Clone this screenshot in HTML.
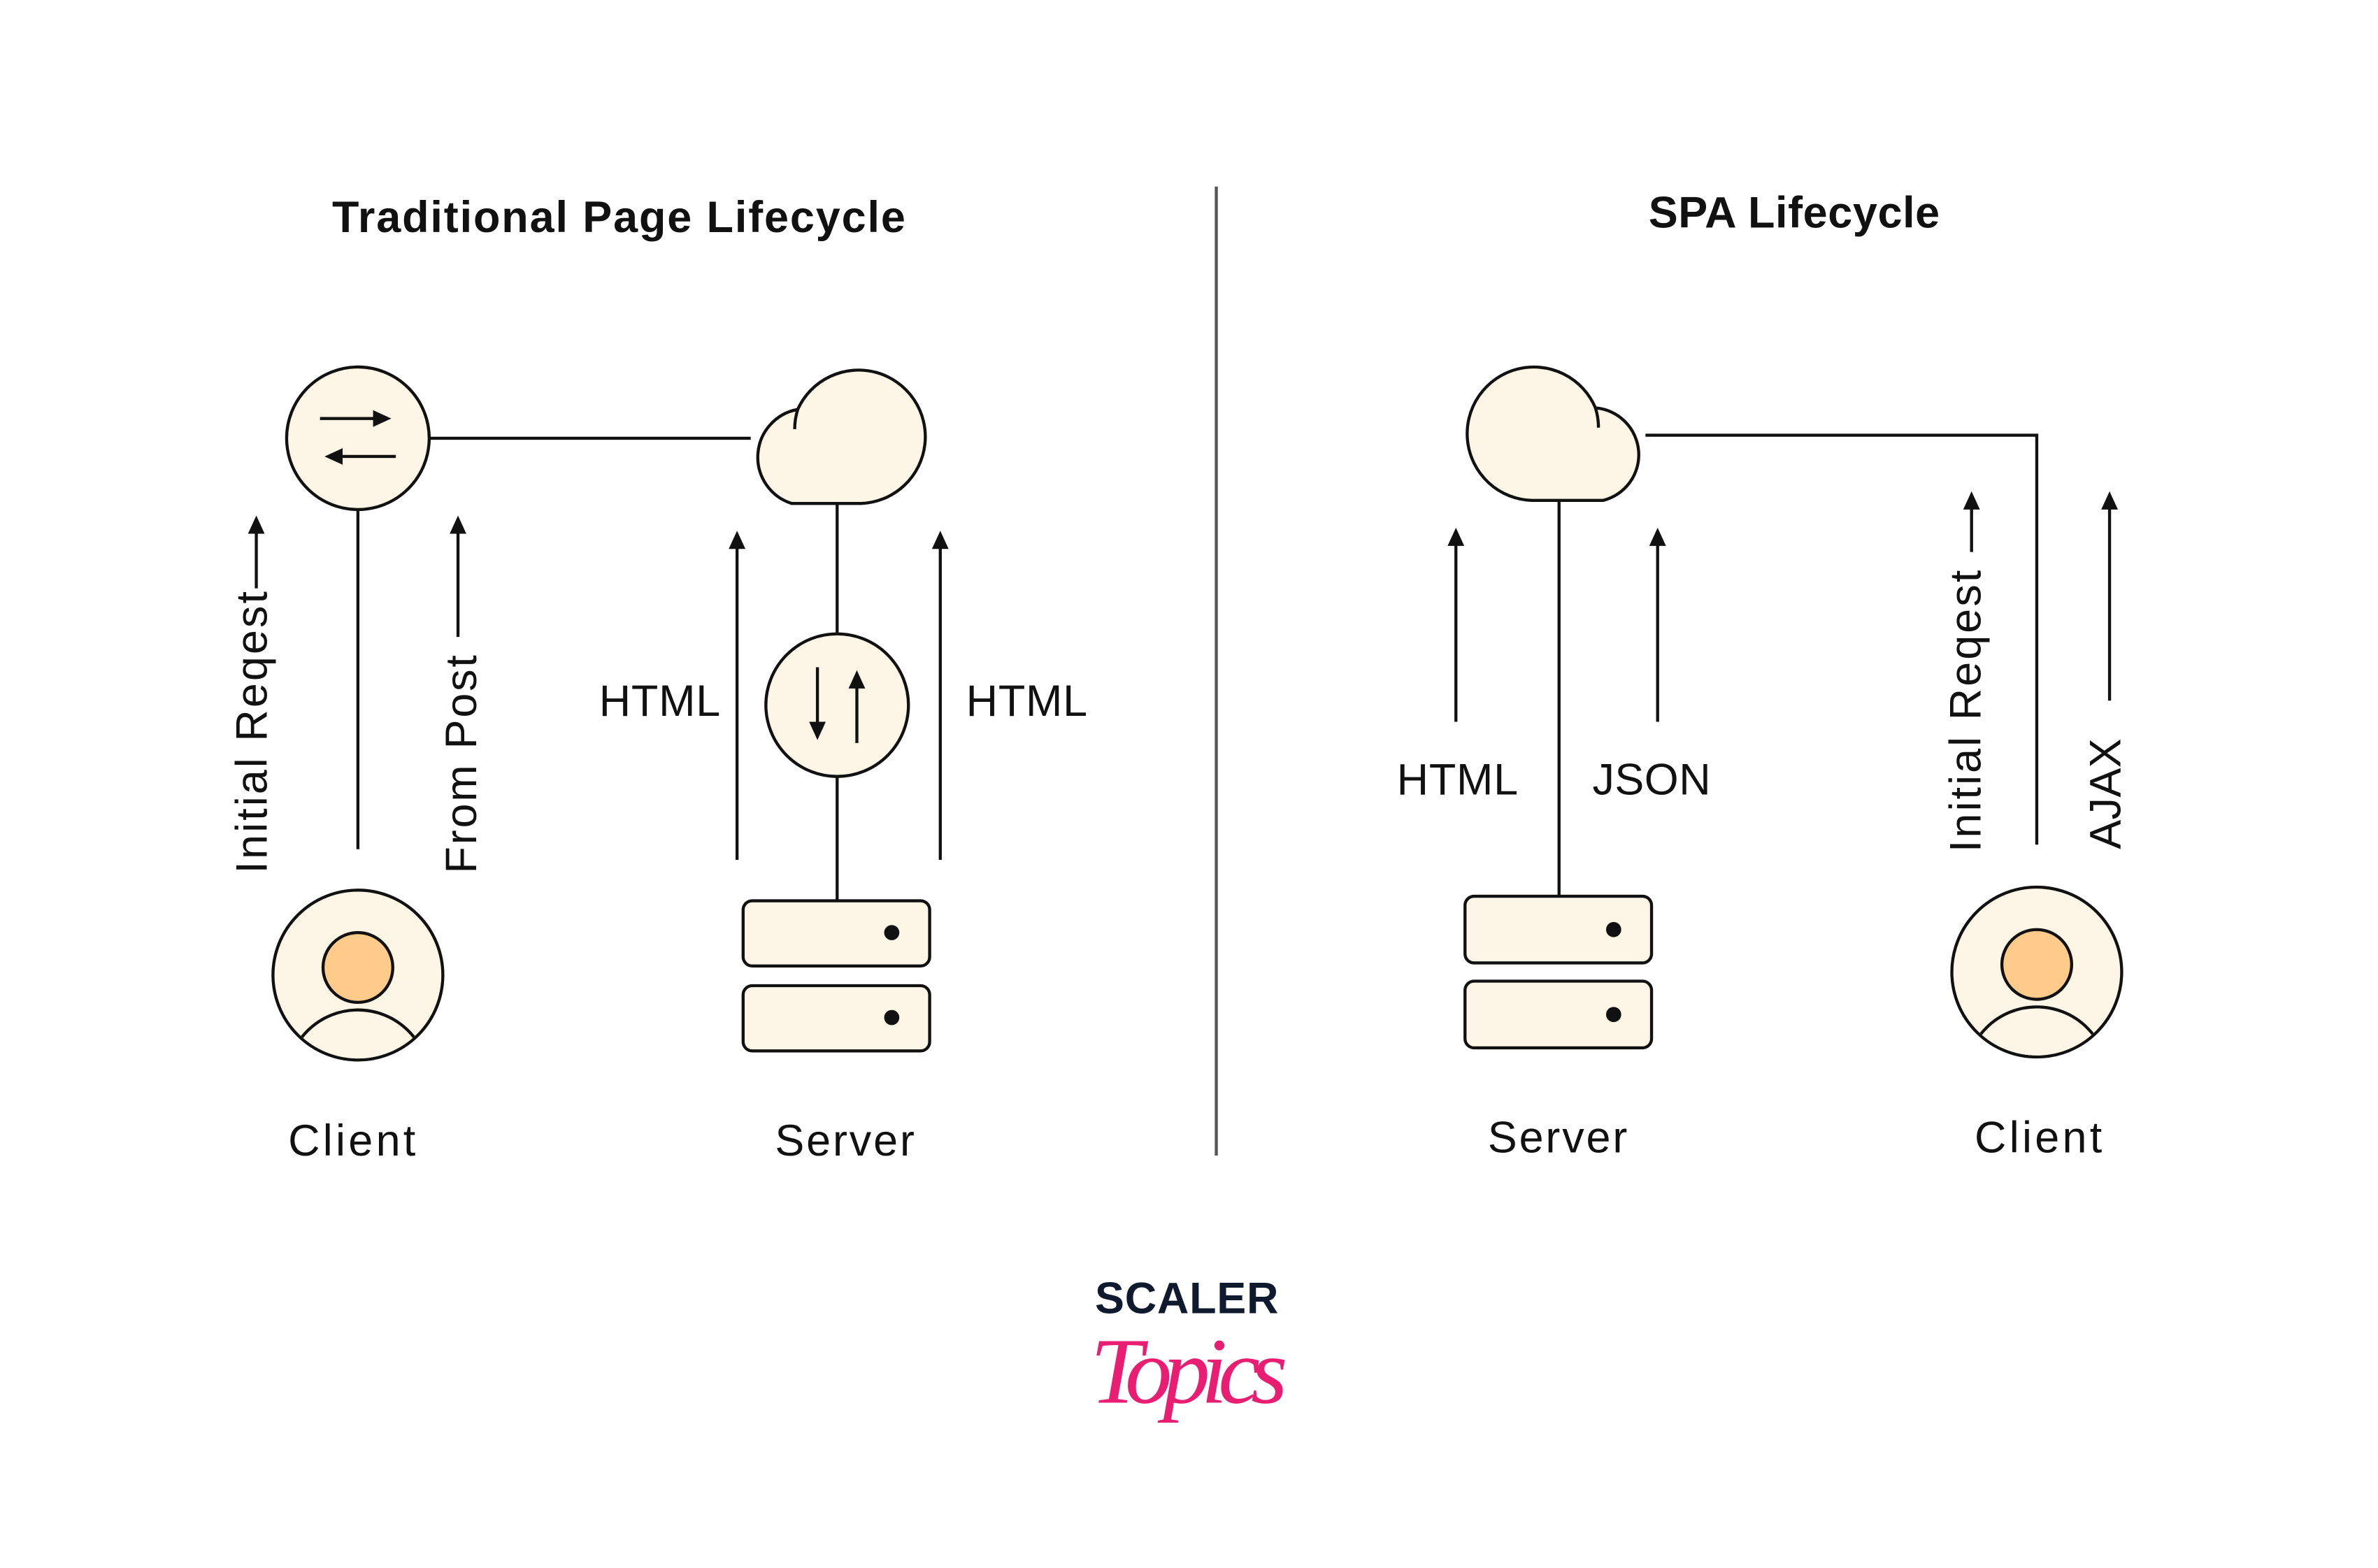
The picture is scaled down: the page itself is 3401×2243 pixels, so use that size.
<!DOCTYPE html>
<html><head><meta charset="utf-8"><style>
html,body{margin:0;padding:0;background:#fff;}
svg{display:block;}
text{font-family:"Liberation Sans",sans-serif;fill:#111;}
</style></head><body>
<svg width="3401" height="2243" viewBox="0 0 1568 1034" preserveAspectRatio="none" xmlns="http://www.w3.org/2000/svg">
<defs>
<marker id="ah" markerWidth="12" markerHeight="12" refX="6" refY="6" orient="auto" markerUnits="userSpaceOnUse"><path d="M0,0.5 L12,6 L0,11.5 Z" fill="#111"/></marker>
<clipPath id="c1"><circle cx="236" cy="643" r="55"/></clipPath>
<clipPath id="c2"><circle cx="1343" cy="641" r="55"/></clipPath>
</defs>
<text x="408" y="153" font-size="29" font-weight="bold" text-anchor="middle" textLength="378">Traditional Page Lifecycle</text>
<text x="1183" y="150" font-size="29" font-weight="bold" text-anchor="middle" textLength="192">SPA Lifecycle</text>
<line x1="802" y1="123" x2="802" y2="762" stroke="#555" stroke-width="2"/>

<g stroke="#111" stroke-width="2">
<line x1="283" y1="289" x2="495" y2="289"/>
<line x1="236" y1="336" x2="236" y2="560"/>
<circle cx="236" cy="289" r="47" fill="#fdf5e6"/>
<line x1="211" y1="276" x2="252" y2="276" marker-end="url(#ah)"/>
<line x1="261" y1="301" x2="220" y2="301" marker-end="url(#ah)"/>
<path d="M522,332 A32,32 0 0 1 526,270 A44,44 0 1 1 568,332 Z" fill="#fdf5e6"/>
<path d="M526,270 A44,44 0 0 0 524,283" fill="none"/>
<line x1="552" y1="332" x2="552" y2="418"/>
<line x1="552" y1="512" x2="552" y2="594"/>
<circle cx="552" cy="465" r="47" fill="#fdf5e6"/>
<line x1="539" y1="440" x2="539" y2="482" marker-end="url(#ah)"/>
<line x1="565" y1="490" x2="565" y2="448" marker-end="url(#ah)"/>
<rect x="490" y="594" width="123" height="43" rx="6" fill="#fdf5e6"/>
<rect x="490" y="650" width="123" height="43" rx="6" fill="#fdf5e6"/>
<line x1="486" y1="567" x2="486" y2="356" marker-end="url(#ah)"/>
<line x1="620" y1="567" x2="620" y2="356" marker-end="url(#ah)"/>
<line x1="169" y1="388" x2="169" y2="346" marker-end="url(#ah)"/>
<line x1="302" y1="420" x2="302" y2="346" marker-end="url(#ah)"/>
<circle cx="236" cy="643" r="56" fill="#fdf5e6"/>
<circle cx="236" cy="713" r="47" fill="#fdf5e6" clip-path="url(#c1)"/>
<circle cx="236" cy="638" r="23" fill="#fecb8b"/>

<polyline points="1085,287 1343,287 1343,557" fill="none"/>
<line x1="1028" y1="330" x2="1028" y2="591"/>
<path d="M1057,330 A31,31 0 0 0 1052,269 A44,44 0 1 0 1010,330 Z" fill="#fdf5e6"/>
<path d="M1052,269 A44,44 0 0 1 1054,282" fill="none"/>
<rect x="966" y="591" width="123" height="44" rx="6" fill="#fdf5e6"/>
<rect x="966" y="647" width="123" height="44" rx="6" fill="#fdf5e6"/>
<line x1="960" y1="476" x2="960" y2="354" marker-end="url(#ah)"/>
<line x1="1093" y1="476" x2="1093" y2="354" marker-end="url(#ah)"/>
<line x1="1300" y1="364" x2="1300" y2="330" marker-end="url(#ah)"/>
<line x1="1391" y1="462" x2="1391" y2="330" marker-end="url(#ah)"/>
<circle cx="1343" cy="641" r="56" fill="#fdf5e6"/>
<circle cx="1343" cy="711" r="47" fill="#fdf5e6" clip-path="url(#c2)"/>
<circle cx="1343" cy="636" r="23" fill="#fecb8b"/>
</g>
<circle cx="588" cy="615" r="5" fill="#111"/>
<circle cx="588" cy="671" r="5" fill="#111"/>
<circle cx="1064" cy="613" r="5" fill="#111"/>
<circle cx="1064" cy="669" r="5" fill="#111"/>

<g font-size="29">
<text x="435" y="472" text-anchor="middle" textLength="80">HTML</text>
<text x="677" y="472" text-anchor="middle" textLength="80">HTML</text>
<text x="232" y="762" text-anchor="middle" textLength="84">Client</text>
<text x="557" y="762" text-anchor="middle" textLength="92">Server</text>
<text x="961" y="524" text-anchor="middle" textLength="80">HTML</text>
<text x="1089" y="524" text-anchor="middle" textLength="78">JSON</text>
<text x="1027" y="760" text-anchor="middle" textLength="92">Server</text>
<text x="1344" y="760" text-anchor="middle" textLength="84">Client</text>
<text transform="translate(176,576) rotate(-90)" textLength="186">Initial Reqest</text>
<text transform="translate(314,576) rotate(-90)" textLength="144">From Post</text>
<text transform="translate(1306,562) rotate(-90)" textLength="186">Initial Reqest</text>
<text transform="translate(1398,560) rotate(-90)" textLength="73">AJAX</text>
</g>

<text x="784" y="866" font-size="29" font-weight="bold" text-anchor="middle" textLength="124" style="fill:#0f1a2e;letter-spacing:3px">SCALER</text>
<text x="784" y="925" font-size="62" font-style="italic" text-anchor="middle" textLength="130" style="font-family:'Liberation Serif',serif;fill:#e91e73">Topics</text>
</svg>
</body></html>
